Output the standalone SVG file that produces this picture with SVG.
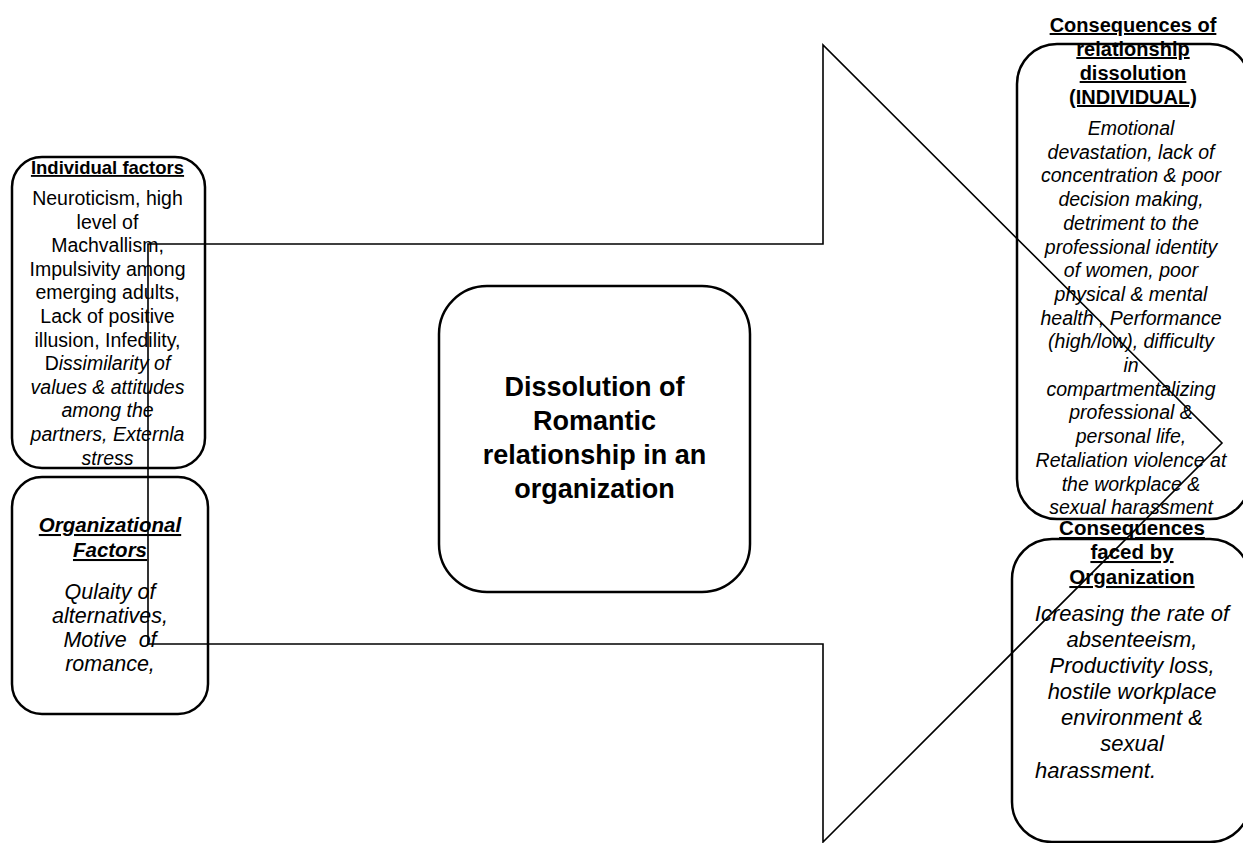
<svg xmlns="http://www.w3.org/2000/svg" width="1243" height="843" viewBox="0 0 1243 843">
<style>
.box{fill:none;stroke:#000;stroke-width:2.5}
.t{font-family:"Liberation Sans",Arial,sans-serif;fill:#000;text-anchor:middle}
.b{font-weight:bold;text-decoration:underline}
.i{font-style:italic}
.arrow{fill:none;stroke:#000;stroke-width:1.6;stroke-linejoin:miter}
</style>
<rect width="1243" height="843" fill="#fff"/>
<g id="individual-factors">
<rect class="box" x="12" y="157" width="193" height="311" rx="30"/>
<text class="t b" x="107.5" y="174" font-size="18.5">Individual factors</text>
<g class="t" font-size="19.5">
<text x="107.5" y="205">Neuroticism, high</text>
<text x="107.5" y="228.6">level of</text>
<text x="107.5" y="252.2">Machvallism,</text>
<text x="107.5" y="275.8">Impulsivity among</text>
<text x="107.5" y="299.4">emerging adults,</text>
<text x="107.5" y="323">Lack of positive</text>
<text x="107.5" y="346.6">illusion, Infedility,</text>
<text x="107.5" y="370.2">D<tspan font-style="italic">issimilarity of</tspan></text>
<text class="i" x="107.5" y="393.8">values &amp; attitudes</text>
<text class="i" x="107.5" y="417.4">among the</text>
<text class="i" x="107.5" y="441">partners, Externla</text>
<text class="i" x="107.5" y="464.6">stress</text>
</g>
</g>
<g id="organizational-factors">
<rect class="box" x="12" y="477" width="196" height="237" rx="30"/>
<text class="t b i" x="110" y="532" font-size="20.5">Organizational</text>
<text class="t b i" x="110" y="557" font-size="20.5">Factors</text>
<g class="t i" font-size="21.5">
<text x="110" y="599">Qulaity of</text>
<text x="110" y="623">alternatives,</text>
<text x="110" y="647" xml:space="preserve">Motive  of</text>
<text x="110" y="671">romance,</text>
</g>
</g>
<g id="dissolution">
<rect class="box" x="439" y="286" width="311" height="306" rx="48"/>
<g class="t" font-size="27" font-weight="bold">
<text x="594.5" y="396">Dissolution of</text>
<text x="594.5" y="430">Romantic</text>
<text x="594.5" y="464">relationship in an</text>
<text x="594.5" y="498">organization</text>
</g>
</g>
<g id="consequences-individual">
<rect class="box" x="1017" y="44" width="233" height="475" rx="40"/>
<g class="t b" font-size="20">
<text x="1133" y="32">Consequences of</text>
<text x="1133" y="56">relationship</text>
<text x="1133" y="80">dissolution</text>
<text x="1133" y="104">(INDIVIDUAL)</text>
</g>
<g class="t i" font-size="19.5">
<text x="1131" y="135">Emotional</text>
<text x="1131" y="158.7">devastation, lack of</text>
<text x="1131" y="182.4">concentration &amp; poor</text>
<text x="1131" y="206.1">decision making,</text>
<text x="1131" y="229.8">detriment to the</text>
<text x="1131" y="253.5">professional identity</text>
<text x="1131" y="277.2">of women, poor</text>
<text x="1131" y="300.9">physical &amp; mental</text>
<text x="1131" y="324.6">health , Performance</text>
<text x="1131" y="348.3">(high/low), difficulty</text>
<text x="1131" y="372">in</text>
<text x="1131" y="395.7">compartmentalizing</text>
<text x="1131" y="419.4">professional &amp;</text>
<text x="1131" y="443.1">personal life,</text>
<text x="1131" y="466.8">Retaliation violence at</text>
<text x="1131" y="490.5">the workplace &amp;</text>
<text x="1131" y="514.2">sexual harassment</text>
</g>
</g>
<g id="consequences-organization">
<rect class="box" x="1012" y="539" width="238" height="303" rx="40"/>
<g class="t b" font-size="20.5">
<text x="1132" y="535">Consequences</text>
<text x="1132" y="559">faced by</text>
<text x="1132" y="584">Organization</text>
</g>
<g class="t i" font-size="22">
<text x="1132" y="621">Icreasing the rate of</text>
<text x="1132" y="647">absenteeism,</text>
<text x="1132" y="673">Productivity loss,</text>
<text x="1132" y="699">hostile workplace</text>
<text x="1132" y="725">environment &amp;</text>
<text x="1132" y="751">sexual</text>
<text x="1035" y="778" style="text-anchor:start">harassment.</text>
</g>
</g>
<g id="connectors">
<polygon class="arrow" points="148,244 823,244 823,45 1222,443 823,842 823,644 148,644"/>
</g>
</svg>
